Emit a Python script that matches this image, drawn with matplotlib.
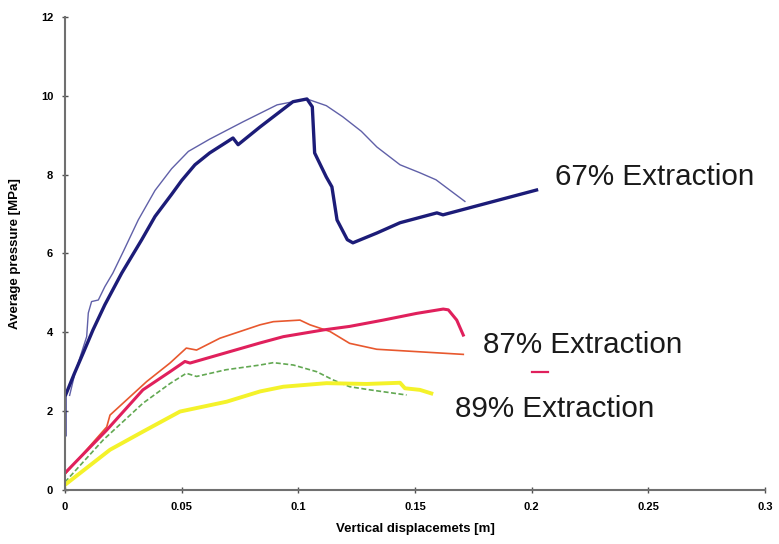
import matplotlib
matplotlib.use('Agg')
import matplotlib.pyplot as plt

# 67% extraction, thick curve
blue_thick_x = [0, 0, 0.004, 0.008, 0.012, 0.0171, 0.0243, 0.0329, 0.0386, 0.0457, 0.05, 0.0557,
                0.062, 0.0694, 0.072, 0.0742, 0.0836, 0.0977, 0.1037, 0.106, 0.107, 0.112, 0.1144,
                0.1166, 0.121, 0.1234, 0.1337, 0.1436, 0.1594, 0.162, 0.1779, 0.2021]
blue_thick_y = [1.4, 2.37, 2.95, 3.5, 4.06, 4.7, 5.5, 6.35, 6.94, 7.5, 7.85, 8.25,
                8.55, 8.83, 8.93, 8.76, 9.21, 9.85, 9.92, 9.72, 8.55, 7.94, 7.69,
                6.85, 6.35, 6.27, 6.52, 6.78, 7.03, 6.98, 7.23, 7.61]

# 67% extraction, thin curve
blue_thin_x = [0.002, 0.0043, 0.0093, 0.01, 0.0114, 0.0143, 0.0171, 0.0205, 0.025, 0.0314, 0.0386,
               0.0457, 0.0529, 0.062, 0.0763, 0.0909, 0.1037, 0.112, 0.119, 0.127, 0.1337, 0.1436,
               0.152, 0.159, 0.1714]
blue_thin_y = [2.4, 2.97, 3.89, 4.49, 4.78, 4.82, 5.16, 5.5, 6.05, 6.85, 7.6,
               8.15, 8.59, 8.9, 9.34, 9.77, 9.92, 9.75, 9.47, 9.1, 8.7, 8.25,
               8.05, 7.87, 7.32]

# 87% extraction, thick curve
mag_x = [0, 0.0179, 0.0334, 0.045, 0.0514, 0.0536, 0.0836, 0.0936, 0.1107, 0.122, 0.1364,
         0.1507, 0.1621, 0.1643, 0.1679, 0.1707]
mag_y = [0.43, 1.52, 2.54, 3.0, 3.26, 3.22, 3.73, 3.89, 4.06, 4.15, 4.31,
         4.48, 4.59, 4.57, 4.31, 3.93]

# 87% extraction, thin curve
orange_x = [0, 0.0179, 0.0193, 0.035, 0.045, 0.052, 0.0564, 0.0664, 0.0836, 0.0893, 0.1007,
            0.105, 0.1136, 0.122, 0.1336, 0.145, 0.1593, 0.1707]
orange_y = [0.4, 1.6, 1.9, 2.75, 3.22, 3.6, 3.55, 3.85, 4.19, 4.27, 4.31,
            4.19, 4.02, 3.72, 3.57, 3.53, 3.48, 3.44]

# 89% extraction, thin dashed curve
green_x = [0, 0.0164, 0.0334, 0.045, 0.052, 0.0564, 0.069, 0.0836, 0.0893, 0.0979, 0.1079,
           0.115, 0.122, 0.1307, 0.1464]
green_y = [0.2, 1.27, 2.2, 2.7, 2.96, 2.88, 3.05, 3.17, 3.23, 3.17, 3.0,
           2.79, 2.62, 2.54, 2.41]

# 89% extraction, thick curve
yellow_x = [0, 0.0193, 0.0334, 0.0493, 0.0693, 0.0836, 0.0936, 0.1121, 0.1293, 0.1436, 0.1457,
            0.1521, 0.157]
yellow_y = [0.13, 1.02, 1.48, 1.99, 2.24, 2.5, 2.62, 2.71, 2.69, 2.72, 2.58,
            2.54, 2.45]

dash_x = [0.2, 0.207]
dash_y = [3.0, 3.0]

fig = plt.figure(figsize=(7.79, 5.44), dpi=100)
ax = fig.add_axes([0.0834, 0.0993, 0.8986, 0.8695])

ax.plot(blue_thin_x, blue_thin_y, color='#6060a8', lw=1.0)
ax.plot(blue_thick_x, blue_thick_y, color='#1c1c78', lw=2.4)
ax.plot(orange_x, orange_y, color='#e8582e', lw=1.2)
ax.plot(green_x, green_y, color='#62a852', lw=1.2, dashes=(3, 1.5))
ax.plot(yellow_x, yellow_y, color='#f4f22a', lw=2.8)
ax.plot(mag_x, mag_y, color='#e0205c', lw=2.2)
ax.plot(dash_x, dash_y, color='#e0205c', lw=1.6)

font = ['Liberation Sans', 'DejaVu Sans']
ax.text(0.21, 7.74, '67% Extraction', fontsize=21.3, family=font, color='#1a1a1a', va='baseline')
ax.text(0.1792, 3.48, '87% Extraction', fontsize=21.3, family=font, color='#1a1a1a', va='baseline')
ax.text(0.1672, 1.86, '89% Extraction', fontsize=21.3, family=font, color='#1a1a1a', va='baseline')

ax.set_xlim(0, 0.3)
ax.set_ylim(0, 12)
ax.set_xticks([0, 0.05, 0.1, 0.15, 0.2, 0.25, 0.3])
ax.set_xticklabels(['0', '0.05', '0.1', '0.15', '0.2', '0.25', '0.3'])
ax.set_yticks([0, 2, 4, 6, 8, 10, 12])

for s in ['top', 'right']:
    ax.spines[s].set_visible(False)
for s in ['left', 'bottom']:
    ax.spines[s].set_color('#707070')
    ax.spines[s].set_linewidth(1.5)

ax.tick_params(direction='inout', length=5, width=1, color='#505050', labelsize=8, pad=6)
for lab in ax.get_xticklabels() + ax.get_yticklabels():
    lab.set_fontweight('bold')
    lab.set_family(font)

ax.set_xlabel('Vertical displacemets [m]', fontsize=9.5, fontweight='bold', family=font, labelpad=8)
ax.set_ylabel('Average pressure [MPa]', fontsize=9.5, fontweight='bold', family=font, labelpad=14)

fig.savefig('out.png', dpi=100)
